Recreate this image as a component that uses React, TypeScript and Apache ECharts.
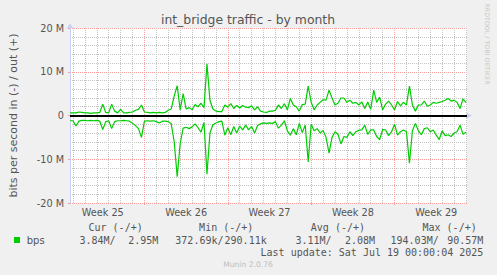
import React, { useEffect, useRef } from 'react';
import * as echarts from 'echarts';

// x is measured in days after Sun Jun 15 2025 00:00
const START_DAY = 0.75;
const STEP_DAY = 0.25;
const X_MIN = 0.75;
const X_MAX = 34.0833;

// out (+) traffic, Mbit/s
const outMbps = [
  0.6, 0.6, 0.6, 0.8, 0.7, 0.6, 0.6, 0.5, 0.6, 0.6,
  0.7, 2.6, 0.7, 0.6, 2.6, 1.0, 0.6, 1.4, 0.6, 0.6,
  0.7, 0.8, 1.2, 1.4, 2.4, 0.8, 0.7, 0.6, 0.7, 0.6,
  0.7, 0.6, 0.7, 1.2, 1.5, 4.5, 6.8, 1.3, 5.0, 1.5,
  1.8, 1.3, 2.5, 2.0, 2.8, 1.8, 11.8, 3.5, 1.5, 1.0,
  0.9, 0.9, 2.4, 1.9, 2.7, 1.6, 2.3, 1.7, 2.3, 1.9,
  1.8, 2.2, 1.3, 2.0, 1.0, 0.8, 0.7, 1.0, 1.0, 1.2,
  2.4, 1.6, 2.7, 1.3, 3.9, 2.4, 2.0, 1.0, 2.5, 2.6,
  6.7, 3.0, 1.3, 2.4, 3.0, 3.6, 3.5, 5.8, 4.0, 2.4,
  2.8, 4.0, 4.0, 3.0, 3.5, 2.8, 3.0, 2.4, 3.1, 1.6,
  3.1, 1.4, 5.8, 3.0, 4.2, 1.3, 2.6, 3.3, 2.4, 1.3,
  3.2, 2.2, 3.0, 2.4, 6.7, 2.4, 1.0, 2.4, 2.4, 3.3,
  2.1, 2.4, 3.0, 2.8, 3.0, 3.2, 3.5, 3.9, 3.3, 3.5,
  3.0, 1.6, 3.8, 2.95,
];

// in (-) traffic, Mbit/s (drawn below zero)
const inMbps = [
  1.2, 1.2, 2.4, 1.3, 1.1, 1.1, 1.2, 1.1, 1.2, 1.1,
  1.3, 3.2, 1.4, 1.2, 3.0, 1.4, 1.2, 1.2, 1.1, 1.2,
  1.3, 1.8, 2.3, 3.0, 5.0, 1.3, 1.2, 1.3, 1.2, 1.4,
  1.7, 1.3, 1.3, 1.4, 1.9, 6.0, 14.0, 6.4, 2.9, 2.7,
  3.0, 2.6, 1.9, 2.8, 3.8, 1.6, 13.4, 4.0, 2.1, 1.7,
  1.4, 1.3, 4.5, 2.8, 4.4, 2.5, 4.0, 2.4, 3.3, 2.2,
  3.3, 2.5, 4.0, 2.3, 1.9, 1.7, 1.8, 1.7, 1.8, 1.4,
  2.9, 2.2, 1.2, 3.5, 4.5, 3.0, 4.4, 1.8, 3.9, 2.2,
  10.6, 2.0, 3.5, 3.0, 4.0, 3.4, 5.0, 8.6, 5.0, 3.7,
  4.3, 6.5, 4.8, 5.0, 3.7, 4.6, 3.7, 3.4, 3.3, 2.2,
  4.3, 3.3, 3.3, 4.8, 5.5, 3.2, 3.3, 4.6, 3.7, 2.0,
  4.5, 3.7, 3.3, 3.7, 10.9, 3.5, 1.8, 3.5, 4.4, 3.0,
  2.8, 3.7, 3.3, 4.5, 5.5, 3.5, 4.6, 4.4, 4.8, 4.0,
  3.7, 2.2, 4.3, 3.84,
];

const dayLines = [1, 2, 3, 4, 5, 6, 8, 9, 10, 11, 12, 13, 15, 16, 17, 18, 19, 20, 22, 23, 24, 25, 26, 27, 29, 30, 31, 32, 33, 34];
const weekLines = [7, 14, 21, 28];
const weekLabelPos = [3.5, 10.5, 17.5, 24.5, 31.5];
const weekLabels = ['Week 25', 'Week 26', 'Week 27', 'Week 28', 'Week 29'];

const legendHeaders = ['Cur (-/+)', 'Min (-/+)', 'Avg (-/+)', 'Max (-/+)'];
const legendIn = ['3.84M/', '372.69k/', '3.11M/', '194.03M/'];
const legendOut = ['2.95M', '290.11k', '2.08M', '90.57M'];
const seriesName = 'bps';
const titleText = 'int_bridge traffic - by month';
const yAxisTitle = 'bits per second in (-) / out (+)';
const lastUpdate = 'Last update: Sat Jul 19 00:00:04 2025';
const muninVersion = 'Munin 2.0.76';
const rrdCredit = 'RRDTOOL / TOBI OETIKER';

// layout
const headerRight = [142.7, 253.3, 365, 476.7];
const inRight = [115.5, 223.5, 331.5, 438.7];
const outRight = [158.3, 266.7, 375, 483.3];

const SANS = '"DejaVu Sans", sans-serif';
const MONO = '"DejaVu Sans Mono", monospace';
const TXT = '#555555';
const GREEN = '#00CC00';
const AXIS = '#C9CFF4';
const GRID = '#C4C4C4';
const MGRID = '#FF9C9C';

export default function App() {
  const ref = useRef<HTMLDivElement>(null);
  useEffect(() => {
    if (!ref.current) return;
    const chart = echarts.init(ref.current, null, { renderer: 'svg' });
    const xs = outMbps.map((_, i) => START_DAY + i * STEP_DAY);
    const graphics: any[] = [
      { type: 'text', x: 248, y: 19, style: { text: titleText, font: `12.4px ${SANS}`, fill: TXT, align: 'center', verticalAlign: 'middle' } },
      { type: 'text', x: 487, y: 44, rotation: -Math.PI / 2, style: { text: rrdCredit, font: `6.3px ${SANS}`, fill: '#C8C8C8', align: 'center', verticalAlign: 'middle' } },
      { type: 'rect', shape: { x: 14, y: 237, width: 6, height: 6 }, style: { fill: GREEN } },
      { type: 'text', x: 26.7, y: 240, style: { text: seriesName, font: `10px ${SANS}`, fill: TXT, align: 'left', verticalAlign: 'middle' } },
      { type: 'text', x: 483.3, y: 252, style: { text: lastUpdate, font: `10px ${MONO}`, fill: TXT, align: 'right', verticalAlign: 'middle' } },
      { type: 'text', x: 248, y: 264, style: { text: muninVersion, font: `7.6px ${SANS}`, fill: '#BEBEBE', align: 'center', verticalAlign: 'middle' } },
    ];
    legendHeaders.forEach((h, i) => {
      graphics.push({ type: 'text', x: headerRight[i], y: 227.5, style: { text: h, font: `10px ${MONO}`, fill: TXT, align: 'right', verticalAlign: 'middle' } });
      graphics.push({ type: 'text', x: inRight[i], y: 240, style: { text: legendIn[i], font: `10px ${MONO}`, fill: TXT, align: 'right', verticalAlign: 'middle' } });
      graphics.push({ type: 'text', x: outRight[i], y: 240, style: { text: legendOut[i], font: `10px ${MONO}`, fill: TXT, align: 'right', verticalAlign: 'middle' } });
    });

    const gridLines = [
      ...dayLines.map((d) => ({ xAxis: d, lineStyle: { color: GRID, width: 1, type: [1, 1] } })),
      ...weekLines.map((d) => ({ xAxis: d, lineStyle: { color: MGRID, width: 1, type: [1, 1] } })),
    ];

    chart.setOption({
      animation: false,
      backgroundColor: '#F0F0F0',
      grid: { left: 67, top: 28, width: 400, height: 175, show: true, backgroundColor: '#FFFFFF', borderWidth: 0, containLabel: false },
      xAxis: [
        {
          type: 'value', min: X_MIN, max: X_MAX,
          axisLine: { show: true, lineStyle: { color: AXIS, width: 1 }, symbol: ['none', 'arrow'], symbolSize: [5, 6], symbolOffset: [0, 5] },
          axisTick: { show: true, customValues: dayLines, length: 2, lineStyle: { color: GRID } },
          axisLabel: {
            show: true, customValues: weekLabelPos, margin: 4, color: TXT, fontFamily: SANS, fontSize: 9.7,
            formatter: (v: number) => { const k = weekLabelPos.findIndex((p) => Math.abs(p - v) < 0.01); return k >= 0 ? weekLabels[k] : ''; },
          },
          splitLine: { show: false },
        },
        {
          type: 'value', min: X_MIN, max: X_MAX, position: 'bottom',
          axisLine: { show: false },
          axisTick: { show: true, customValues: weekLines, length: 2, lineStyle: { color: MGRID } },
          axisLabel: { show: false },
          splitLine: { show: false },
        },
      ],
      yAxis: {
        type: 'value', min: -20e6, max: 20e6, interval: 10e6,
        name: yAxisTitle, nameLocation: 'middle', nameGap: 51,
        nameTextStyle: { color: TXT, fontFamily: SANS, fontSize: 11 },
        axisLine: { show: true, lineStyle: { color: AXIS, width: 1 }, symbol: ['none', 'arrow'], symbolSize: [5, 6], symbolOffset: [0, 5] },
        axisTick: { show: true, length: 2, lineStyle: { color: MGRID } },
        axisLabel: {
          color: TXT, fontFamily: SANS, fontSize: 9.7, margin: 6,
          formatter: (v: number) => (v === 0 ? '0' : `${v / 1e6} M`),
        },
        splitLine: { show: true, lineStyle: { color: MGRID, width: 1, type: [1, 1] } },
        minorTick: { show: false, splitNumber: 5 },
        minorSplitLine: { show: true, lineStyle: { color: GRID, width: 1, type: [1, 1] } },
      },
      series: [
        {
          name: 'in', type: 'line', xAxisIndex: 0, showSymbol: false, symbol: 'none', z: 5,
          lineStyle: { color: GREEN, width: 1.2 },
          data: inMbps.map((v, i) => [xs[i], -v * 1e6]),
          markLine: {
            silent: true, symbol: ['none', 'none'], label: { show: false }, z: 1,
            data: gridLines,
          },
        },
        {
          name: 'out', type: 'line', xAxisIndex: 0, showSymbol: false, symbol: 'none', z: 5,
          lineStyle: { color: GREEN, width: 1.2 },
          data: outMbps.map((v, i) => [xs[i], v * 1e6]),
          markLine: {
            silent: true, symbol: ['none', 'none'], label: { show: false }, z: 10,
            lineStyle: { color: '#000000', width: 2, type: 'solid' },
            data: [{ yAxis: 0 }],
          },
        },
      ],
      graphic: graphics,
    });
    return () => chart.dispose();
  }, []);
  return <div ref={ref} style={{ position: 'absolute', left: 0, top: 0, width: 497, height: 275 }} />;
}
